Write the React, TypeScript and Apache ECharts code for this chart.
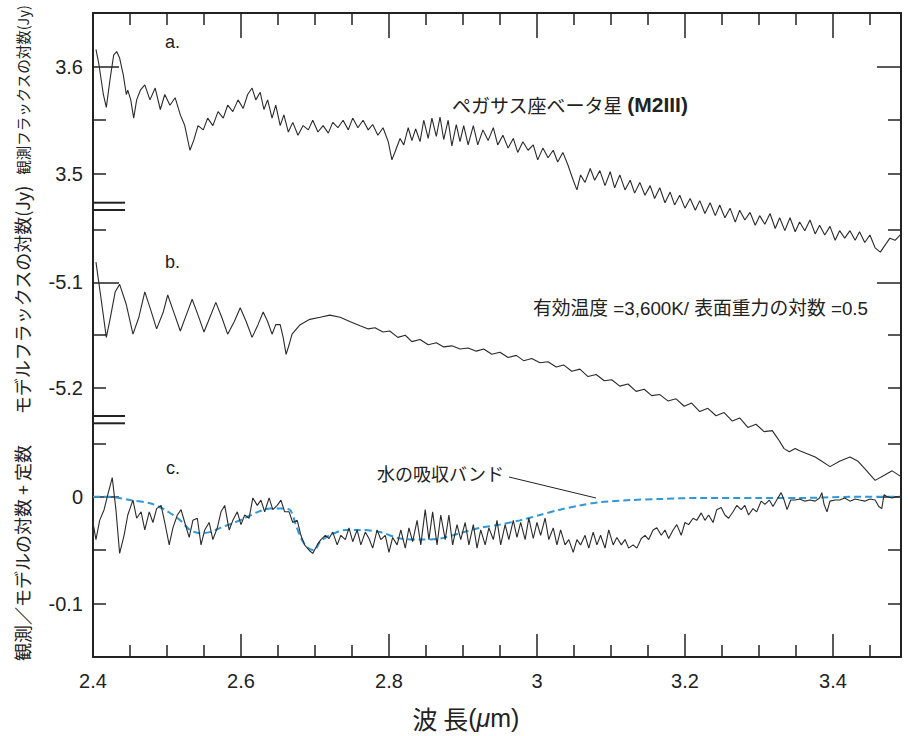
import React, { useEffect, useRef } from "react";
import * as echarts from "echarts";

// ---------- data (wavelength in µm, log flux) ----------
const aWave = [2.404,2.408,2.414,2.418,2.423,2.428,2.432,2.436,2.441,2.445,2.447,2.451,2.455,2.459,2.464,2.470,2.477,2.484,2.491,2.497,2.504,2.511,2.518,2.524,2.531,2.536,2.542,2.549,2.555,2.562,2.569,2.576,2.582,2.589,2.596,2.603,2.609,2.615,2.620,2.626,2.631,2.636,2.642,2.647,2.653,2.658,2.664,2.670,2.677,2.684,2.691,2.697,2.704,2.711,2.718,2.724,2.731,2.738,2.745,2.751,2.758,2.765,2.772,2.778,2.785,2.792,2.799,2.804,2.809,2.815,2.820,2.826,2.831,2.836,2.842,2.847,2.853,2.858,2.864,2.869,2.874,2.880,2.885,2.891,2.896,2.901,2.907,2.914,2.920,2.927,2.934,2.941,2.947,2.954,2.961,2.968,2.974,2.981,2.988,2.995,3.001,3.008,3.015,3.022,3.028,3.035,3.042,3.049,3.054,3.059,3.065,3.072,3.078,3.085,3.092,3.099,3.105,3.112,3.119,3.126,3.132,3.139,3.146,3.153,3.159,3.166,3.173,3.180,3.186,3.193,3.200,3.207,3.214,3.220,3.227,3.234,3.241,3.247,3.254,3.261,3.268,3.274,3.281,3.288,3.295,3.301,3.308,3.315,3.322,3.328,3.335,3.342,3.349,3.355,3.362,3.369,3.376,3.382,3.389,3.396,3.403,3.409,3.416,3.423,3.430,3.436,3.443,3.450,3.457,3.464,3.470,3.477,3.484,3.491];
const aFlux = [3.616,3.602,3.574,3.562,3.588,3.611,3.614,3.608,3.592,3.574,3.578,3.569,3.552,3.569,3.578,3.583,3.569,3.580,3.560,3.574,3.564,3.571,3.555,3.545,3.522,3.531,3.545,3.541,3.552,3.545,3.558,3.552,3.564,3.558,3.569,3.561,3.574,3.580,3.569,3.576,3.560,3.569,3.552,3.564,3.545,3.555,3.539,3.548,3.536,3.545,3.541,3.550,3.539,3.545,3.538,3.548,3.543,3.550,3.541,3.552,3.543,3.550,3.541,3.546,3.536,3.543,3.530,3.513,3.522,3.533,3.527,3.543,3.531,3.542,3.530,3.550,3.533,3.552,3.535,3.553,3.532,3.550,3.526,3.546,3.530,3.545,3.527,3.545,3.527,3.541,3.531,3.543,3.527,3.536,3.524,3.533,3.520,3.530,3.522,3.527,3.513,3.524,3.515,3.522,3.511,3.520,3.508,3.494,3.485,3.499,3.492,3.505,3.494,3.503,3.489,3.502,3.487,3.499,3.485,3.494,3.482,3.492,3.480,3.489,3.477,3.487,3.473,3.483,3.471,3.480,3.468,3.477,3.466,3.475,3.463,3.473,3.461,3.471,3.459,3.468,3.455,3.466,3.457,3.464,3.452,3.461,3.453,3.463,3.449,3.459,3.447,3.459,3.446,3.455,3.447,3.457,3.444,3.452,3.443,3.451,3.438,3.447,3.440,3.447,3.438,3.446,3.436,3.443,3.431,3.427,3.433,3.440,3.438,3.443];

const bWave = [2.404,2.411,2.418,2.423,2.430,2.436,2.445,2.454,2.462,2.470,2.478,2.486,2.495,2.501,2.509,2.518,2.526,2.534,2.542,2.550,2.558,2.566,2.574,2.582,2.591,2.599,2.607,2.615,2.623,2.630,2.636,2.642,2.647,2.653,2.657,2.661,2.665,2.669,2.680,2.693,2.707,2.720,2.734,2.747,2.761,2.772,2.781,2.792,2.801,2.812,2.822,2.831,2.842,2.853,2.864,2.874,2.885,2.896,2.907,2.918,2.928,2.939,2.950,2.961,2.972,2.982,2.993,3.004,3.015,3.026,3.036,3.047,3.058,3.069,3.080,3.091,3.101,3.112,3.123,3.134,3.145,3.155,3.166,3.177,3.188,3.199,3.209,3.220,3.231,3.242,3.253,3.264,3.274,3.285,3.296,3.307,3.318,3.326,3.334,3.341,3.349,3.355,3.366,3.376,3.385,3.396,3.409,3.423,3.434,3.443,3.457,3.470,3.480,3.491];
const bFlux = [-5.081,-5.116,-5.152,-5.135,-5.109,-5.102,-5.121,-5.149,-5.133,-5.109,-5.126,-5.144,-5.128,-5.112,-5.128,-5.146,-5.131,-5.116,-5.131,-5.147,-5.133,-5.119,-5.133,-5.149,-5.137,-5.124,-5.137,-5.152,-5.140,-5.128,-5.137,-5.149,-5.140,-5.140,-5.152,-5.168,-5.159,-5.149,-5.140,-5.135,-5.133,-5.131,-5.133,-5.137,-5.141,-5.144,-5.143,-5.147,-5.146,-5.152,-5.150,-5.156,-5.154,-5.159,-5.157,-5.161,-5.160,-5.163,-5.162,-5.165,-5.163,-5.168,-5.166,-5.171,-5.169,-5.174,-5.172,-5.176,-5.175,-5.180,-5.178,-5.184,-5.182,-5.189,-5.187,-5.193,-5.192,-5.198,-5.196,-5.203,-5.201,-5.207,-5.206,-5.212,-5.210,-5.217,-5.214,-5.222,-5.219,-5.226,-5.223,-5.231,-5.228,-5.237,-5.234,-5.241,-5.240,-5.248,-5.257,-5.260,-5.257,-5.259,-5.262,-5.265,-5.269,-5.274,-5.269,-5.265,-5.269,-5.276,-5.287,-5.282,-5.278,-5.283];

const cWave = [2.400,2.404,2.409,2.415,2.420,2.426,2.431,2.436,2.442,2.447,2.454,2.459,2.465,2.470,2.476,2.481,2.486,2.492,2.497,2.503,2.508,2.514,2.519,2.524,2.530,2.535,2.541,2.546,2.551,2.557,2.562,2.568,2.573,2.578,2.584,2.589,2.595,2.600,2.605,2.611,2.616,2.622,2.627,2.632,2.638,2.643,2.649,2.654,2.659,2.665,2.670,2.676,2.681,2.686,2.692,2.697,2.703,2.708,2.714,2.719,2.724,2.730,2.735,2.741,2.746,2.751,2.757,2.762,2.768,2.773,2.778,2.784,2.789,2.795,2.800,2.805,2.811,2.816,2.822,2.827,2.832,2.838,2.843,2.849,2.854,2.859,2.865,2.870,2.876,2.881,2.886,2.892,2.897,2.903,2.908,2.914,2.919,2.924,2.930,2.935,2.941,2.946,2.951,2.957,2.962,2.968,2.973,2.978,2.984,2.989,2.995,3.000,3.005,3.011,3.016,3.022,3.027,3.032,3.038,3.043,3.049,3.054,3.059,3.065,3.070,3.076,3.081,3.086,3.092,3.097,3.103,3.108,3.114,3.119,3.124,3.130,3.135,3.141,3.146,3.151,3.157,3.162,3.168,3.173,3.178,3.184,3.189,3.195,3.200,3.205,3.211,3.216,3.222,3.227,3.232,3.238,3.243,3.249,3.254,3.259,3.265,3.270,3.276,3.281,3.286,3.292,3.297,3.303,3.308,3.314,3.319,3.324,3.330,3.334,3.338,3.343,3.349,3.355,3.362,3.369,3.376,3.382,3.385,3.388,3.392,3.396,3.403,3.409,3.416,3.423,3.430,3.436,3.443,3.450,3.457,3.462,3.466,3.469,3.474,3.480,3.485,3.491];
const cRatio = [-0.024,-0.040,-0.022,-0.012,0.002,0.018,-0.012,-0.053,-0.036,-0.017,-0.003,-0.020,-0.014,-0.031,-0.014,-0.024,-0.011,-0.008,-0.024,-0.045,-0.029,-0.017,-0.012,-0.024,-0.038,-0.022,-0.020,-0.045,-0.031,-0.024,-0.040,-0.029,-0.014,-0.008,-0.031,-0.022,-0.014,-0.026,-0.017,-0.020,-0.001,-0.008,-0.003,-0.014,-0.001,-0.012,-0.008,-0.003,-0.014,-0.014,-0.024,-0.022,-0.036,-0.045,-0.050,-0.053,-0.045,-0.040,-0.036,-0.039,-0.033,-0.045,-0.036,-0.040,-0.029,-0.042,-0.031,-0.045,-0.033,-0.039,-0.048,-0.031,-0.040,-0.036,-0.052,-0.038,-0.045,-0.031,-0.048,-0.029,-0.042,-0.022,-0.045,-0.012,-0.040,-0.014,-0.045,-0.017,-0.040,-0.017,-0.045,-0.026,-0.040,-0.024,-0.045,-0.026,-0.048,-0.031,-0.045,-0.029,-0.040,-0.022,-0.045,-0.026,-0.040,-0.022,-0.038,-0.024,-0.040,-0.020,-0.039,-0.024,-0.036,-0.020,-0.040,-0.029,-0.045,-0.031,-0.045,-0.040,-0.052,-0.040,-0.045,-0.036,-0.048,-0.033,-0.045,-0.036,-0.048,-0.031,-0.045,-0.038,-0.045,-0.040,-0.048,-0.045,-0.048,-0.039,-0.036,-0.040,-0.031,-0.029,-0.036,-0.031,-0.039,-0.031,-0.026,-0.036,-0.024,-0.026,-0.020,-0.022,-0.015,-0.022,-0.017,-0.024,-0.012,-0.010,-0.017,-0.020,-0.014,-0.008,-0.012,-0.008,-0.017,-0.011,-0.014,-0.004,-0.007,-0.003,-0.009,-0.003,0.004,-0.003,-0.012,-0.003,-0.003,-0.002,-0.004,-0.003,-0.004,-0.001,0.004,-0.007,-0.014,-0.004,-0.003,-0.003,-0.001,-0.004,-0.002,-0.003,-0.004,-0.002,-0.003,-0.009,-0.011,0.002,0.000,-0.001,0.000,0.000];

const waterWave = [2.400,2.423,2.450,2.477,2.497,2.518,2.531,2.545,2.558,2.572,2.588,2.605,2.623,2.639,2.655,2.666,2.674,2.682,2.691,2.699,2.707,2.720,2.741,2.761,2.788,2.815,2.842,2.869,2.896,2.923,2.950,2.977,3.004,3.031,3.058,3.085,3.126,3.166,3.220,3.301,3.355,3.423,3.491];
const waterRatio = [0.000,0.000,-0.003,-0.006,-0.012,-0.022,-0.031,-0.034,-0.033,-0.029,-0.025,-0.020,-0.014,-0.011,-0.011,-0.012,-0.026,-0.040,-0.048,-0.050,-0.042,-0.036,-0.031,-0.031,-0.033,-0.039,-0.040,-0.039,-0.034,-0.029,-0.026,-0.022,-0.017,-0.012,-0.008,-0.005,-0.003,-0.002,-0.001,-0.001,-0.001,0.000,0.000];

const xMajorTicks = [2.4, 2.6, 2.8, 3.0, 3.2, 3.4];
const xMinorTicks = [2.45, 2.5, 2.55, 2.65, 2.7, 2.75, 2.85, 2.9, 2.95, 3.05, 3.1, 3.15, 3.25, 3.3, 3.35, 3.45];

const aLabels = [3.6, 3.5];
const aMajor = [3.6];
const aMinor = [3.55, 3.5];
const bLabels = [-5.1, -5.2];
const bMajor = [-5.1];
const bMinor = [-5.05, -5.15, -5.2];
const cLabels = [0, -0.1];
const cMajor = [0];
const cMinor = [0.05, -0.05, -0.1];

// ---------- layout ----------
const W = 908;
const H = 736;
const LEFT = 93;
const RIGHT = 7;
const FONT = "'Liberation Sans', 'Noto Sans CJK JP', sans-serif";
const JP = "'Noto Sans CJK JP', 'Liberation Sans', sans-serif";
const INK = "#222";

const panels = [
  { top: 13, height: 193, min: 3.47, max: 3.65, labels: aLabels, major: aMajor, minor: aMinor },
  { top: 206, height: 214, min: -5.23, max: -5.028, labels: bLabels, major: bMajor, minor: bMinor },
  { top: 420, height: 237, min: -0.15, max: 0.072, labels: cLabels, major: cMajor, minor: cMinor },
];

const zip = (xs: number[], ys: number[]) => xs.map((x, i) => [x, ys[i]]);

function buildOption() {
  const grid = panels.map((p) => ({ left: LEFT, right: RIGHT, top: p.top, height: p.height }));

  const xBase = { type: "value", min: 2.4, max: 3.492, splitLine: { show: false } };
  const xAxis: any[] = [
    {
      ...xBase, gridIndex: 0, position: "top",
      axisLine: { show: true, onZero: false, lineStyle: { color: INK, width: 2 } },
      axisTick: { show: true, inside: true, length: 12, customValues: xMinorTicks, lineStyle: { color: INK, width: 1.5 } },
      axisLabel: { show: false },
    },
    {
      ...xBase, gridIndex: 0, position: "top",
      axisLine: { show: false, onZero: false },
      axisTick: { show: true, inside: true, length: 25, customValues: xMajorTicks, lineStyle: { color: INK, width: 1.5 } },
      axisLabel: { show: false },
    },
    { ...xBase, gridIndex: 1, show: false, axisLine: { onZero: false } },
    {
      ...xBase, gridIndex: 2, position: "bottom",
      axisLine: { show: true, onZero: false, lineStyle: { color: INK, width: 2 } },
      axisTick: { show: true, inside: true, length: 12, customValues: xMinorTicks, lineStyle: { color: INK, width: 1.5 } },
      axisLabel: { show: false },
    },
    {
      ...xBase, gridIndex: 2, position: "bottom",
      axisLine: { show: false, onZero: false },
      axisTick: { show: true, inside: true, length: 23, customValues: xMajorTicks, lineStyle: { color: INK, width: 1.5 } },
      axisLabel: {
        show: true, customValues: xMajorTicks, margin: 14, color: INK,
        fontSize: 20, fontFamily: FONT,
        formatter: (v: number) => String(Math.round(v * 10) / 10),
      },
    },
  ];

  const yAxis: any[] = [];
  panels.forEach((p, gi) => {
    const base = { type: "value", gridIndex: gi, min: p.min, max: p.max, splitLine: { show: false } };
    yAxis.push({
      ...base, position: "left",
      axisLine: { show: true, onZero: false, lineStyle: { color: INK, width: 2 } },
      axisTick: { show: true, inside: true, length: 13, customValues: p.minor, lineStyle: { color: INK, width: 1.5 } },
      axisLabel: {
        show: true, customValues: p.labels, margin: 10, color: INK, fontSize: 20, fontFamily: FONT,
        formatter: (v: number) => String(Math.round(v * 100) / 100),
      },
    });
    yAxis.push({
      ...base, position: "left",
      axisLine: { show: false, onZero: false },
      axisTick: { show: true, inside: true, length: 26, customValues: p.major, lineStyle: { color: INK, width: 1.5 } },
      axisLabel: { show: false },
    });
    yAxis.push({
      ...base, position: "right",
      axisLine: { show: true, onZero: false, lineStyle: { color: INK, width: 2 } },
      axisTick: { show: true, inside: true, length: 13, customValues: p.minor, lineStyle: { color: INK, width: 1.5 } },
      axisLabel: { show: false },
    });
    yAxis.push({
      ...base, position: "right",
      axisLine: { show: false, onZero: false },
      axisTick: { show: true, inside: true, length: 24, customValues: p.major, lineStyle: { color: INK, width: 1.5 } },
      axisLabel: { show: false },
    });
  });

  const lineBase = { type: "line", showSymbol: false, symbol: "none", clip: false, animation: false, smooth: false };
  const series: any[] = [
    { ...lineBase, name: "観測", xAxisIndex: 0, yAxisIndex: 0, data: zip(aWave, aFlux), lineStyle: { color: "#2a2a2a", width: 1.1 } },
    { ...lineBase, name: "モデル", xAxisIndex: 2, yAxisIndex: 4, data: zip(bWave, bFlux), lineStyle: { color: "#2a2a2a", width: 1.1 } },
    { ...lineBase, name: "水の吸収バンド", xAxisIndex: 3, yAxisIndex: 8, data: zip(waterWave, waterRatio), smooth: 0.3, lineStyle: { color: "#2f98d6", width: 2, type: [7, 4] }, z: 3 },
    { ...lineBase, name: "観測/モデル", xAxisIndex: 3, yAxisIndex: 8, data: zip(cWave, cRatio), lineStyle: { color: "#2a2a2a", width: 1.1 }, z: 4 },
  ];

  const txt = (x: number, y: number, text: string, size: number, extra: any = {}) => ({
    type: "text", x, y, z: 10,
    style: {
      text, fill: INK, fontSize: size, fontFamily: FONT,
      align: "left", verticalAlign: "middle", textAlign: "left", textVerticalAlign: "middle",
      ...extra,
    },
  });
  const vtxt = (x: number, y: number, text: string, size: number) => ({
    type: "text", x, y, rotation: Math.PI / 2, z: 10,
    style: {
      text, fill: INK, fontSize: size, fontFamily: JP,
      align: "center", verticalAlign: "middle", textAlign: "center", textVerticalAlign: "middle",
    },
  });
  const seg = (x1: number, y1: number, x2: number, y2: number, w: number) => ({
    type: "line", z: 10, shape: { x1, y1, x2, y2 }, style: { stroke: INK, lineWidth: w },
  });

  const graphic: any[] = [
    // axis break marks
    seg(LEFT, 202.7, 125, 202.7, 2), seg(LEFT, 210, 125, 210, 2),
    seg(LEFT, 416, 125, 416, 2), seg(LEFT, 423.3, 125, 423.3, 2),
    // panel letters
    txt(165, 42, "a.", 18), txt(165, 262, "b.", 18), txt(166, 468, "c.", 18),
    // annotations
    {
      type: "text", x: 452, y: 104, z: 10,
      style: {
        text: "{n|ペガサス座ベータ星 }{b|(M2III)}",
        align: "left", verticalAlign: "middle", textAlign: "left", textVerticalAlign: "middle",
        rich: {
          n: { fontSize: 19, fontFamily: JP, fill: INK, color: INK },
          b: { fontSize: 21, fontFamily: FONT, fontWeight: "bold", fill: INK, color: INK },
        },
      },
    },
    txt(533, 308, "有効温度 =3,600K/ 表面重力の対数 =0.5", 18.8, { fontFamily: FONT }),
    txt(377, 473, "水の吸収バンド", 18, { fontFamily: JP }),
    seg(509, 477, 596, 498, 1),
    // axis titles
    vtxt(22, 90, "観測フラックスの対数(Jy)", 14.5),
    vtxt(22, 300, "モデルフラックスの対数(Jy)", 18),
    vtxt(22, 553, "観測／モデルの対数 + 定数", 18),
    {
      type: "text", x: 466, y: 718, z: 10,
      style: {
        text: "{j|波 長}{p|(}{m|μ}{p|m)}",
        align: "center", verticalAlign: "middle", textAlign: "center", textVerticalAlign: "middle",
        rich: {
          j: { fontSize: 25, fontFamily: JP, fill: INK, color: INK },
          p: { fontSize: 25, fontFamily: FONT, fill: INK, color: INK },
          m: { fontSize: 25, fontFamily: FONT, fontStyle: "italic", fill: INK, color: INK },
        },
      },
    },
  ];

  return {
    animation: false,
    backgroundColor: "#ffffff",
    textStyle: { fontFamily: FONT },
    grid,
    xAxis,
    yAxis,
    series,
    graphic,
  };
}

export default function App() {
  const ref = useRef<HTMLDivElement>(null);
  useEffect(() => {
    document.body.style.margin = "0";
    if (!ref.current) return;
    const chart = echarts.init(ref.current, undefined, { renderer: "svg" });
    chart.setOption(buildOption() as any);
    return () => chart.dispose();
  }, []);
  return <div ref={ref} style={{ width: W, height: H }} />;
}
